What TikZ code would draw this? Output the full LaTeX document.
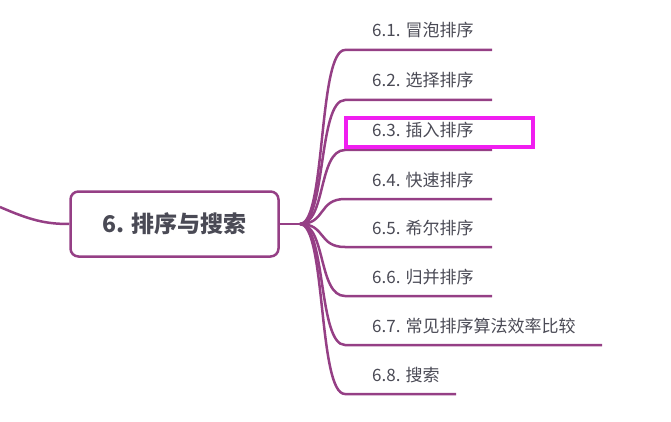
\documentclass[tikz,border=0pt]{standalone}
\usepackage{fontspec}
\setmainfont{Noto Sans CJK SC}
\begin{document}
\begin{tikzpicture}[x=1pt,y=-1pt,
  br/.style={draw=purp,line width=2.5pt},
  lab/.style={anchor=base west,text=txt,font=\fontsize{17}{19}\selectfont,inner sep=0pt}]
\definecolor{purp}{HTML}{953F85}
\definecolor{txt}{HTML}{4A4A55}
\definecolor{mag}{HTML}{F01EF0}
\useasboundingbox (0,0) rectangle (671,422);
\node[draw=purp,line width=2.5pt,rounded corners=8pt,minimum width=208pt,minimum height=65pt,
  font=\fontsize{23}{25}\selectfont\bfseries,text=txt] (c) at (174.5,224) {6. 排序与搜索};
\coordinate (l0) at (0,207);
\draw[br] (l0) .. controls (30,220) and (45,224) .. (c.west);
\coordinate (hub) at (300,224);
\draw[br] (c.east) -- (hub);
\foreach \i/\y/\e/\t in {1/50/492/6.1. 冒泡排序,2/100/492/6.2. 选择排序,3/150/492/6.3. 插入排序,4/199/492/6.4. 快速排序,5/247/492/6.5. 希尔排序,6/296/492/6.6. 归并排序,7/345/602/6.7. 常见排序算法效率比较,8/394/456/6.8. 搜索}{
  \coordinate (s\i) at (345,\y);
  \coordinate (e\i) at (\e,\y);
  \draw[br] (hub) .. controls (326,224) and (318,\y) .. (s\i) -- (e\i);
  \node[lab] (t\i) at (372,\y-13) {\t};
}
\draw[mag,line width=4.5pt] (346,118) rectangle (533,147);
\end{tikzpicture}
\end{document}
